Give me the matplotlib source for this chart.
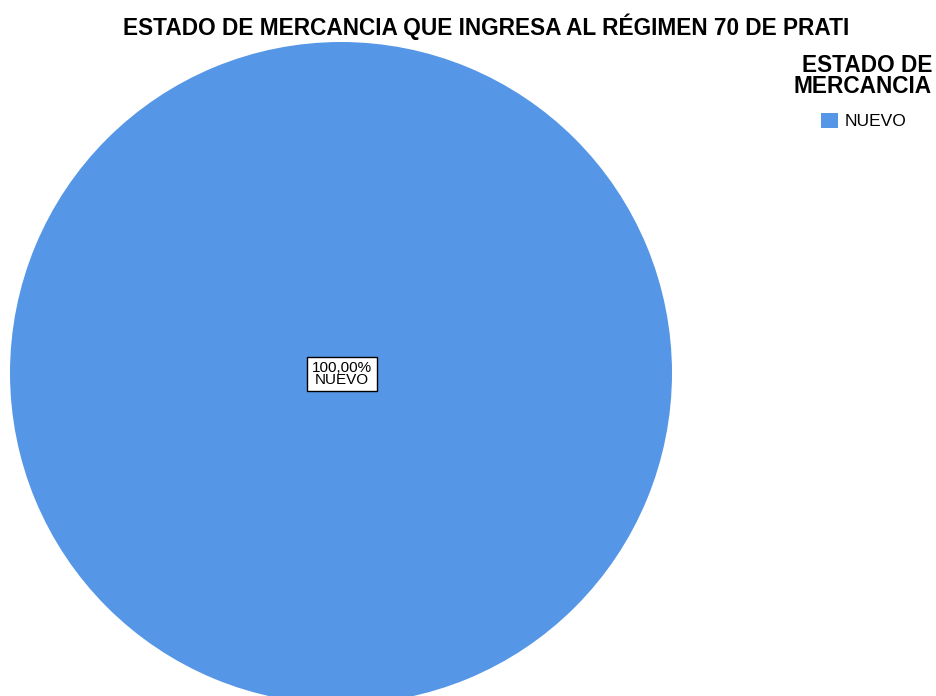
import matplotlib
matplotlib.use("Agg")
import matplotlib.pyplot as plt
from matplotlib.patches import Patch

# data
categorias = ["NUEVO"]
porcentajes = [100.0]
color_nuevo = "#5596e6"

plt.rcParams["font.family"] = ["Liberation Sans", "DejaVu Sans"]

fig = plt.figure(figsize=(9.36, 6.96), dpi=100)
ax = fig.add_axes([0, 0, 1, 1])

wedges, _ = ax.pie(porcentajes, colors=[color_nuevo], center=(341, 373),
                   radius=331, startangle=90, counterclock=False,
                   wedgeprops=dict(linewidth=0))
for w in wedges:
    w.set_clip_on(False)

# pie() resets the limits, so set them afterwards
ax.set_xlim(0, 936)
ax.set_ylim(696, 0)
ax.set_aspect("equal")
ax.axis("off")

# etiqueta en el centro
etiqueta = "{:.2f}%".format(porcentajes[0]).replace(".", ",") + "\n" + categorias[0]
ax.text(342, 374, etiqueta, ha="center", va="center", fontsize=11,
        linespacing=0.78,
        bbox=dict(boxstyle="square,pad=0.3", facecolor="white",
                  edgecolor="black", linewidth=1))

fig.text(486 / 936, 1 - 27 / 696,
         "ESTADO DE MERCANCIA QUE INGRESA AL RÉGIMEN 70 DE PRATI",
         ha="center", va="center", fontsize=16.3, fontweight="bold")

# leyenda
fig.text(932 / 936, 1 - 76 / 696, "ESTADO DE\nMERCANCIA", ha="right",
         va="center", fontsize=16.3, fontweight="bold", linespacing=0.9)
leg = fig.legend(handles=[Patch(facecolor=color_nuevo, label=categorias[0])],
                 loc="center left", bbox_to_anchor=(814 / 936, 1 - 121 / 696),
                 frameon=False, fontsize=12.5, handlelength=1.0,
                 handleheight=1.0, handletextpad=0.35, borderaxespad=0)

fig.savefig("out.png", dpi=100)
